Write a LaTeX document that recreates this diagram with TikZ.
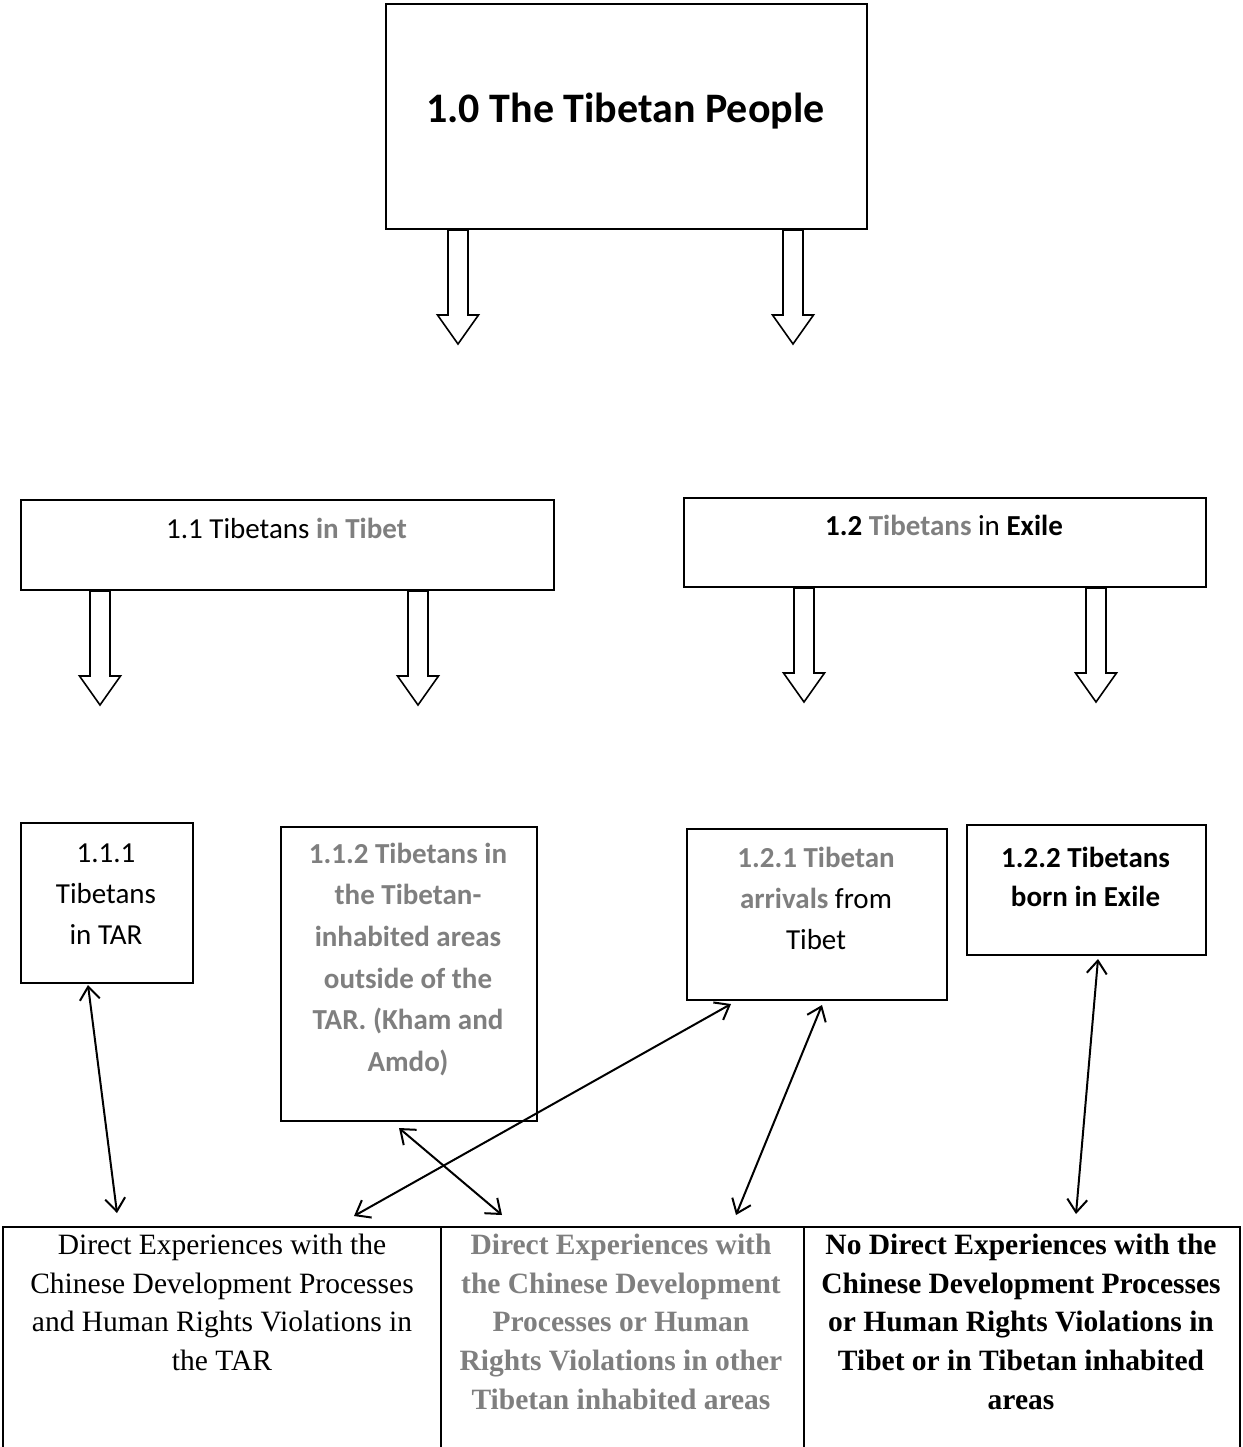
\documentclass[tikz,border=0pt]{standalone}
\usepackage{fontspec}
\setmainfont{Carlito}
\newfontfamily\serifx{Liberation Serif}
\usetikzlibrary{calc,arrows.meta}
\definecolor{tgray}{RGB}{127,127,127}
\tikzset{
  box/.style={draw, line width=2, rectangle, inner sep=0, anchor=north west},
  lbl/.style={font=\fontsize{29}{41}\selectfont, align=center, inner sep=0, anchor=north},
  cell/.style={font=\serifx\fontsize{29.5}{38.8}\selectfont, align=center, inner sep=0, anchor=north},
  dbl/.style={line width=2, {Straight Barb[length=13pt,width=20pt]}-{Straight Barb[length=13pt,width=20pt]}},
  tbl/.style={line width=2.4},
  hollow/.pic={\draw[line width=1.6, line join=miter] (-10,0) -- (-10,85) -- (-20.5,85) -- (0,114) -- (20.5,85) -- (10,85) -- (10,0) -- cycle;}
}
\begin{document}
\begin{tikzpicture}[x=1pt,y=-1pt]
\useasboundingbox (0,0) rectangle (1242,1447);
\fill[white] (0,0) rectangle (1242,1447);

% top box
\node[box, minimum width=481, minimum height=225] (top) at (385,3) {};
\node[font=\fontsize{42}{50}\selectfont\bfseries, inner sep=0, anchor=base] (toptxt) at (625.5,123) {1.0 The Tibetan People};
\pic at ($(top.south west)+(73,0)$) {hollow};
\pic at ($(top.south west)+(408,0)$) {hollow};

% level 1
\node[box, minimum width=533, minimum height=90] (b11) at (20,499) {};
\node[font=\fontsize{29}{41}\selectfont, inner sep=0, anchor=base] (t11) at (286.5,538) {1.1 Tibetans \textbf{\textcolor{tgray}{in Tibet}}};
\pic at ($(b11.south west)+(80,0)$) {hollow};
\pic at ($(b11.south west)+(398,0)$) {hollow};

\node[box, minimum width=522, minimum height=89] (b12) at (683,497) {};
\node[font=\fontsize{29}{41}\selectfont, inner sep=0, anchor=base] (t12) at (944,535) {\textbf{1.2} \textbf{\textcolor{tgray}{Tibetans}} in \textbf{Exile}};
\pic at ($(b12.south west)+(121,0)$) {hollow};
\pic at ($(b12.south west)+(413,0)$) {hollow};

% level 2
\node[box, minimum width=172, minimum height=160] (b111) at (20,822) {};
\node[lbl] (t111) at (106,837) {\rule{0pt}{25pt}1.1.1\\Tibetans\\in TAR};

\node[box, minimum width=256, minimum height=294] (b112) at (280,826) {};
\node[lbl, font=\fontsize{29}{41.6}\selectfont\bfseries, text=tgray] (t112) at (408,838) {\rule{0pt}{25pt}1.1.2 Tibetans in\\the Tibetan-\\inhabited areas\\outside of the\\TAR. (Kham and\\Amdo)};

\node[box, minimum width=260, minimum height=171] (b121) at (686,828) {};
\node[lbl] (t121) at (816,842) {\rule{0pt}{25pt}\textbf{\textcolor{tgray}{1.2.1 Tibetan}}\\\textbf{\textcolor{tgray}{arrivals}} from\\Tibet};

\node[box, minimum width=239, minimum height=130] (b122) at (966,824) {};
\node[lbl, font=\fontsize{29}{39.5}\selectfont\bfseries] (t122) at (1085.5,842) {\rule{0pt}{25pt}1.2.2 Tibetans\\born in Exile};

% table
\coordinate (tl) at (3,1227);
\coordinate (tr) at (1240,1227);
\coordinate (bl) at (3,1447);
\coordinate (br) at (1240,1447);
\coordinate (d1t) at (441,1227);
\coordinate (d1b) at (441,1447);
\coordinate (d2t) at (804,1227);
\coordinate (d2b) at (804,1447);
\draw[tbl] (bl) -- (tl) -- (tr) -- (br);
\draw[line width=1.6] (d1t) -- (d1b);
\draw[line width=1.6] (d2t) -- (d2b);

\node[cell] (c1) at (222,1230) {\rule{0pt}{24pt}Direct Experiences with the\\Chinese Development Processes\\and Human Rights Violations in\\the TAR};
\node[cell, font=\serifx\fontsize{29.5}{38.8}\selectfont\bfseries, text=tgray] (c2) at (621,1230) {\rule{0pt}{24pt}Direct Experiences with\\the Chinese Development\\Processes or Human\\Rights Violations in other\\Tibetan inhabited areas};
\node[cell, font=\serifx\fontsize{29.5}{38.8}\selectfont\bfseries] (c3) at (1021,1230) {\rule{0pt}{24pt}No Direct Experiences with the\\Chinese Development Processes\\or Human Rights Violations in\\Tibet or in Tibetan inhabited\\areas};

% double arrows
\coordinate (a1u) at (88,985);
\coordinate (a1d) at (117,1213);
\coordinate (a2u) at (731,1004);
\coordinate (a2d) at (354,1216);
\coordinate (a3u) at (399,1128);
\coordinate (a3d) at (502,1215);
\coordinate (a4u) at (822,1005);
\coordinate (a4d) at (736,1215);
\coordinate (a5u) at (1098,959);
\coordinate (a5d) at (1076,1214);
\draw[dbl] (a1u) -- (a1d);
\draw[dbl] (a2u) -- (a2d);
\draw[dbl] (a3u) -- (a3d);
\draw[dbl] (a4u) -- (a4d);
\draw[dbl] (a5u) -- (a5d);
\end{tikzpicture}
\end{document}
